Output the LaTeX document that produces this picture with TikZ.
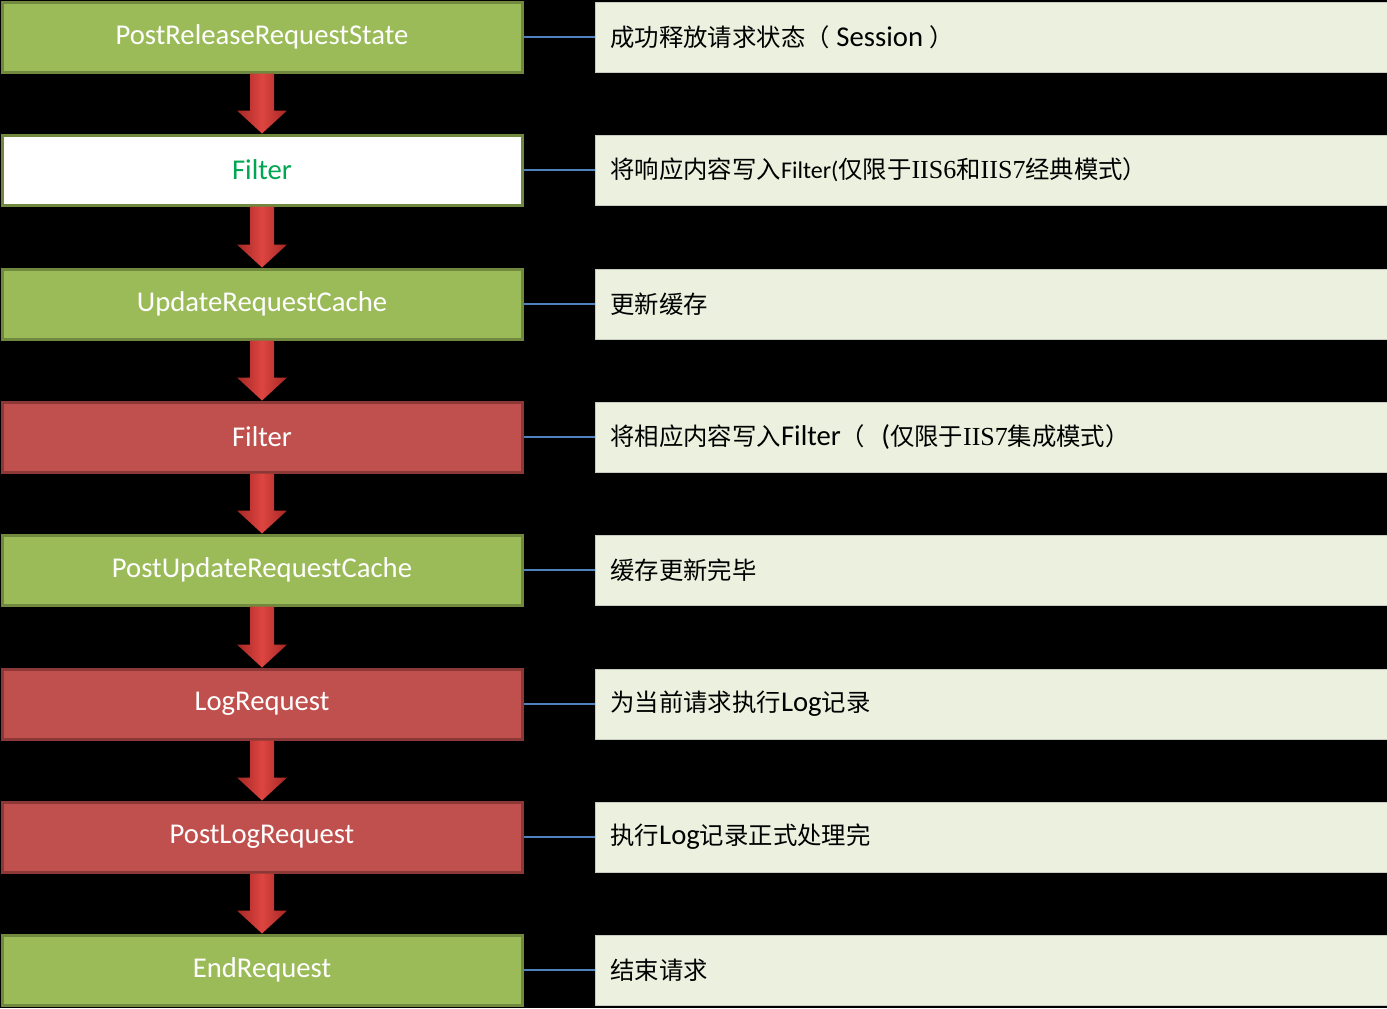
\documentclass[tikz,border=0pt]{standalone}
\usepackage{fontspec}
\setmainfont{Carlito}
\newfontfamily\zh[Scale=0.85]{Noto Sans CJK SC}
\newfontfamily\serifl{Liberation Serif}
\usetikzlibrary{calc}
\definecolor{gfill}{HTML}{9BBB59}
\definecolor{gline}{HTML}{71893F}
\definecolor{rfill}{HTML}{C0504D}
\definecolor{rline}{HTML}{8C3836}
\definecolor{notefill}{HTML}{EBF1DE}
\definecolor{noteline}{HTML}{C8CCC0}
\definecolor{linkc}{HTML}{4F81BD}
\definecolor{fgreen}{HTML}{00A651}
\definecolor{arlight}{HTML}{DE4541}
\definecolor{ardark}{HTML}{A42824}
\tikzset{
  stage/.style={rectangle, minimum width=390pt, minimum height=52.5pt, inner sep=0pt,
    line width=2.25pt, text=white, font=\fontsize{21.5}{24}\selectfont},
  gstage/.style={stage, fill=gfill, draw=gline},
  rstage/.style={stage, fill=rfill, draw=rline},
  wstage/.style={stage, fill=white, draw=gline, text=fgreen},
  notebox/.style={rectangle, anchor=west, fill=notefill, draw=noteline, line width=0.75pt,
    text width=577.5pt, inner xsep=11.25pt, minimum height=52.5pt, align=left,
    text=black, font=\fontsize{21.5}{24}\selectfont},
  linkline/.style={draw=linkc, line width=1.1pt},
  flowarrow/.style={left color=ardark, right color=ardark, middle color=arlight}
}
\newcommand{\flowdown}[2]{%
  \shade[flowarrow] ($(#1.south)+(-12,0)$) -- ($(#1.south)+(12,0)$)
    -- ($(#2.north)+(12,-23)$) -- ($(#2.north)+(25,-23)$) -- (#2.north)
    -- ($(#2.north)+(-25,-23)$) -- ($(#2.north)+(-12,-23)$) -- cycle;}
\newcommand{\iis}[1]{{\serifl\fontsize{19.5}{22}\selectfont #1}}
\begin{document}
\begin{tikzpicture}[x=0.75pt, y=-0.75pt]
\fill[black] (0,0) rectangle (1387,1008);
\useasboundingbox (0,0) rectangle (1387,1008);
\begin{scope}
\clip (0,0) rectangle (1387,1008);
\node[gstage] (s1) at (262,37) {PostReleaseRequestState};
\node[wstage] (s2) at (262,170) {Filter};
\node[gstage] (s3) at (262,304) {UpdateRequestCache};
\node[rstage] (s4) at (262,437) {Filter};
\node[gstage] (s5) at (262,570) {PostUpdateRequestCache};
\node[rstage] (s6) at (262,704) {LogRequest};
\node[rstage] (s7) at (262,837) {PostLogRequest};
\node[gstage] (s8) at (262,970) {EndRequest};

\node[notebox] (n1) at (595,37) {{\zh 成功释放请求状态（}\hspace{5pt}Session\hspace{5pt}{\zh ）}};
\node[notebox] (n2) at (595,170) {{\zh 将响应内容写入}{\fontsize{18}{22}\selectfont Filter(}{\zh 仅限于}\iis{IIS6}{\zh 和}\iis{IIS7}{\zh 经典模式）}};
\node[notebox] (n3) at (595,304) {{\zh 更新缓存}};
\node[notebox] (n4) at (595,437) {{\zh 将相应内容写入}Filter{\zh （}\hspace{12pt}({\zh 仅限于}\iis{IIS7}{\zh 集成模式）}};
\node[notebox] (n5) at (595,570) {{\zh 缓存更新完毕}};
\node[notebox] (n6) at (595,704) {{\zh 为当前请求执行}Log{\zh 记录}};
\node[notebox] (n7) at (595,837) {{\zh 执行}Log{\zh 记录正式处理完}};
\node[notebox] (n8) at (595,970) {{\zh 结束请求}};

\foreach \i in {1,...,8} {\draw[linkline] (s\i.east) -- (n\i.west);}

\flowdown{s1}{s2}
\flowdown{s2}{s3}
\flowdown{s3}{s4}
\flowdown{s4}{s5}
\flowdown{s5}{s6}
\flowdown{s6}{s7}
\flowdown{s7}{s8}
\end{scope}
\end{tikzpicture}
\end{document}
